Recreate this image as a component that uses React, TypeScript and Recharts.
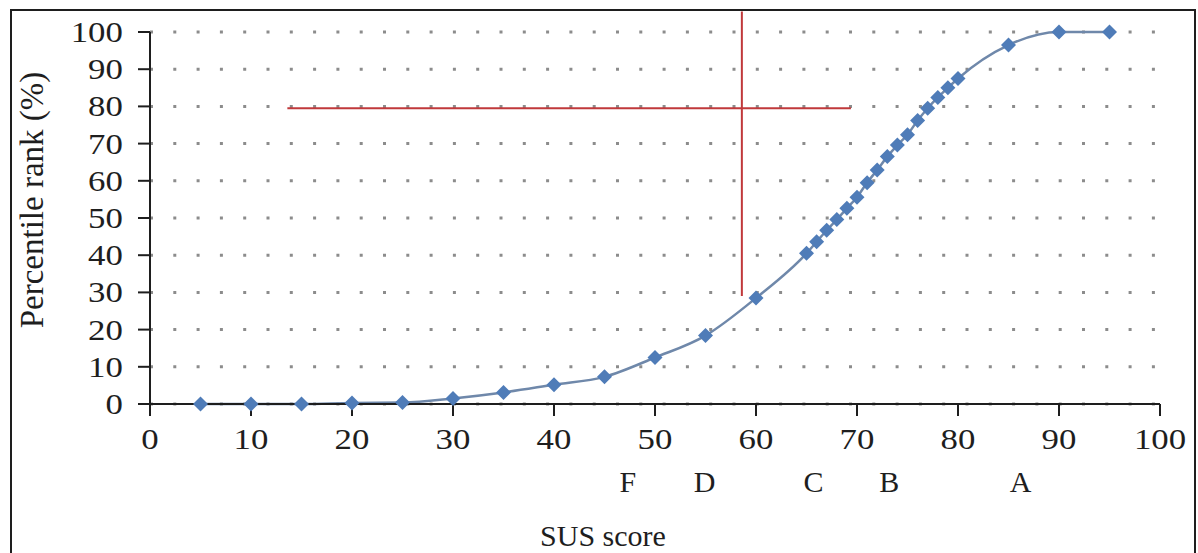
import React from "react";
import {
  LineChart,
  Line,
  XAxis,
  YAxis,
  CartesianGrid,
  ReferenceLine,
  ReferenceDot,
} from "recharts";

// SUS score vs percentile rank
const scores = [
  5, 10, 15, 20, 25, 30, 35, 40, 45, 50, 55, 60, 65, 66, 67, 68, 69, 70, 71, 72,
  73, 74, 75, 76, 77, 78, 79, 80, 85, 90, 95,
];
const percentiles = [
  0, 0, 0, 0.3, 0.4, 1.5, 3.1, 5.2, 7.3, 12.5, 18.4, 28.5, 40.5, 43.6, 46.7,
  49.6, 52.6, 55.6, 59.5, 62.9, 66.5, 69.6, 72.4, 76.2, 79.5, 82.4, 85, 87.5,
  96.5, 100, 100,
];
const xTicks = [0, 10, 20, 30, 40, 50, 60, 70, 80, 90, 100];
const yTicks = [0, 10, 20, 30, 40, 50, 60, 70, 80, 90, 100];

// grade letters under the x axis
const gradeLetters = ["F", "D", "C", "B", "A"];
const gradeScores = [47.3, 54.9, 65.7, 73.2, 86.2];

// red cross-hair annotation
const crossH = { y: 79.5, from: 13.6, to: 69.4 };
const crossV = { x: 58.6, from: 29, to: 105.5 };

const data = scores.map((score, i) => ({ score, rank: percentiles[i] }));

const FONT = "Liberation Serif, Times New Roman, serif";
const INK = "#1e1e1e";

const Diamond = (props: any) => {
  const { cx, cy, index } = props;
  if (cx == null || cy == null) return null;
  const r = 7.5;
  return (
    <polygon
      key={`d-${index}`}
      points={`${cx},${cy - r} ${cx + r},${cy} ${cx},${cy + r} ${cx - r},${cy}`}
      fill="#4f7cb8"
    />
  );
};

const XTick = (props: any) => {
  const { x, y, payload } = props;
  return (
    <g transform={`translate(${x},${y})`}>
      <text
        x={0}
        y={0}
        dy={31}
        textAnchor="middle"
        fontSize={29}
        fontFamily={FONT}
        fill={INK}
        transform="scale(1.2,1)"
      >
        {payload.value}
      </text>
    </g>
  );
};

const YTick = (props: any) => {
  const { x, y, payload } = props;
  return (
    <g transform={`translate(${x},${y})`}>
      <text
        x={-11}
        y={0}
        dy={10}
        textAnchor="end"
        fontSize={29}
        fontFamily={FONT}
        fill={INK}
        transform="scale(1.2,1)"
      >
        {payload.value}
      </text>
    </g>
  );
};

const YLabel = () => (
  <text
    transform="translate(43,200) rotate(-90)"
    textAnchor="middle"
    fontSize={33}
    fontFamily={FONT}
    fill={INK}
  >
    Percentile rank (%)
  </text>
);

const XLabel = (props: any) => {
  const vb = props.viewBox || { x: 150, width: 1010, y: 404 };
  return (
    <text
      x={vb.x + vb.width / 2 - 52}
      y={546}
      textAnchor="middle"
      fontSize={30}
      fontFamily={FONT}
      fill={INK}
    >
      SUS score
    </text>
  );
};

const gradeLabel = (letter: string) => (props: any) => {
  const vb = props.viewBox;
  if (!vb) return null;
  return (
    <text
      x={vb.x + vb.width / 2}
      y={vb.y + vb.height / 2 + 88}
      textAnchor="middle"
      fontSize={30}
      fontFamily={FONT}
      fill={INK}
    >
      {letter}
    </text>
  );
};

export default function App() {
  return (
    <div
      style={{
        position: "absolute",
        left: 0,
        top: 0,
        width: 1198,
        height: 553,
        overflow: "hidden",
        background: "#fff",
        fontFamily: FONT,
      }}
    >
      <LineChart
        width={1198}
        height={553}
        data={data}
        margin={{ top: 32, right: 38, left: 0, bottom: 0 }}
      >
        <CartesianGrid
          horizontal
          vertical={false}
          stroke="#8c8c8c"
          strokeWidth={3}
          strokeDasharray="3 20.3"
        />
        <XAxis
          dataKey="score"
          type="number"
          domain={[0, 100]}
          ticks={xTicks}
          interval={0}
          height={149}
          tickSize={12}
          axisLine={{ stroke: INK, strokeWidth: 2 }}
          tickLine={{ stroke: INK, strokeWidth: 2 }}
          tick={<XTick />}
          label={XLabel}
        />
        <YAxis
          type="number"
          domain={[0, 100]}
          ticks={yTicks}
          interval={0}
          width={150}
          tickSize={12}
          axisLine={{ stroke: INK, strokeWidth: 2 }}
          tickLine={{ stroke: INK, strokeWidth: 2 }}
          tick={<YTick />}
          label={YLabel}
        />
        <ReferenceLine
          segment={[
            { x: crossH.from, y: crossH.y },
            { x: crossH.to, y: crossH.y },
          ]}
          stroke="#c0393b"
          strokeWidth={2}
          ifOverflow="visible"
        />
        <ReferenceLine
          segment={[
            { x: crossV.x, y: crossV.from },
            { x: crossV.x, y: crossV.to },
          ]}
          stroke="#c0393b"
          strokeWidth={2}
          ifOverflow="visible"
        />
        <Line
          type="monotone"
          dataKey="rank"
          stroke="#6f88aa"
          strokeWidth={2.5}
          dot={Diamond}
          activeDot={false}
          isAnimationActive={false}
        />
        {gradeLetters.map((g, i) => (
          <ReferenceDot
            key={g}
            x={gradeScores[i]}
            y={0}
            r={0}
            fill="none"
            stroke="none"
            ifOverflow="visible"
            label={gradeLabel(g)}
          />
        ))}
      </LineChart>
      <div
        style={{
          position: "absolute",
          left: 10,
          top: 9,
          width: 1186,
          height: 600,
          border: `2px solid ${INK}`,
          boxSizing: "border-box",
          pointerEvents: "none",
        }}
      />
    </div>
  );
}
